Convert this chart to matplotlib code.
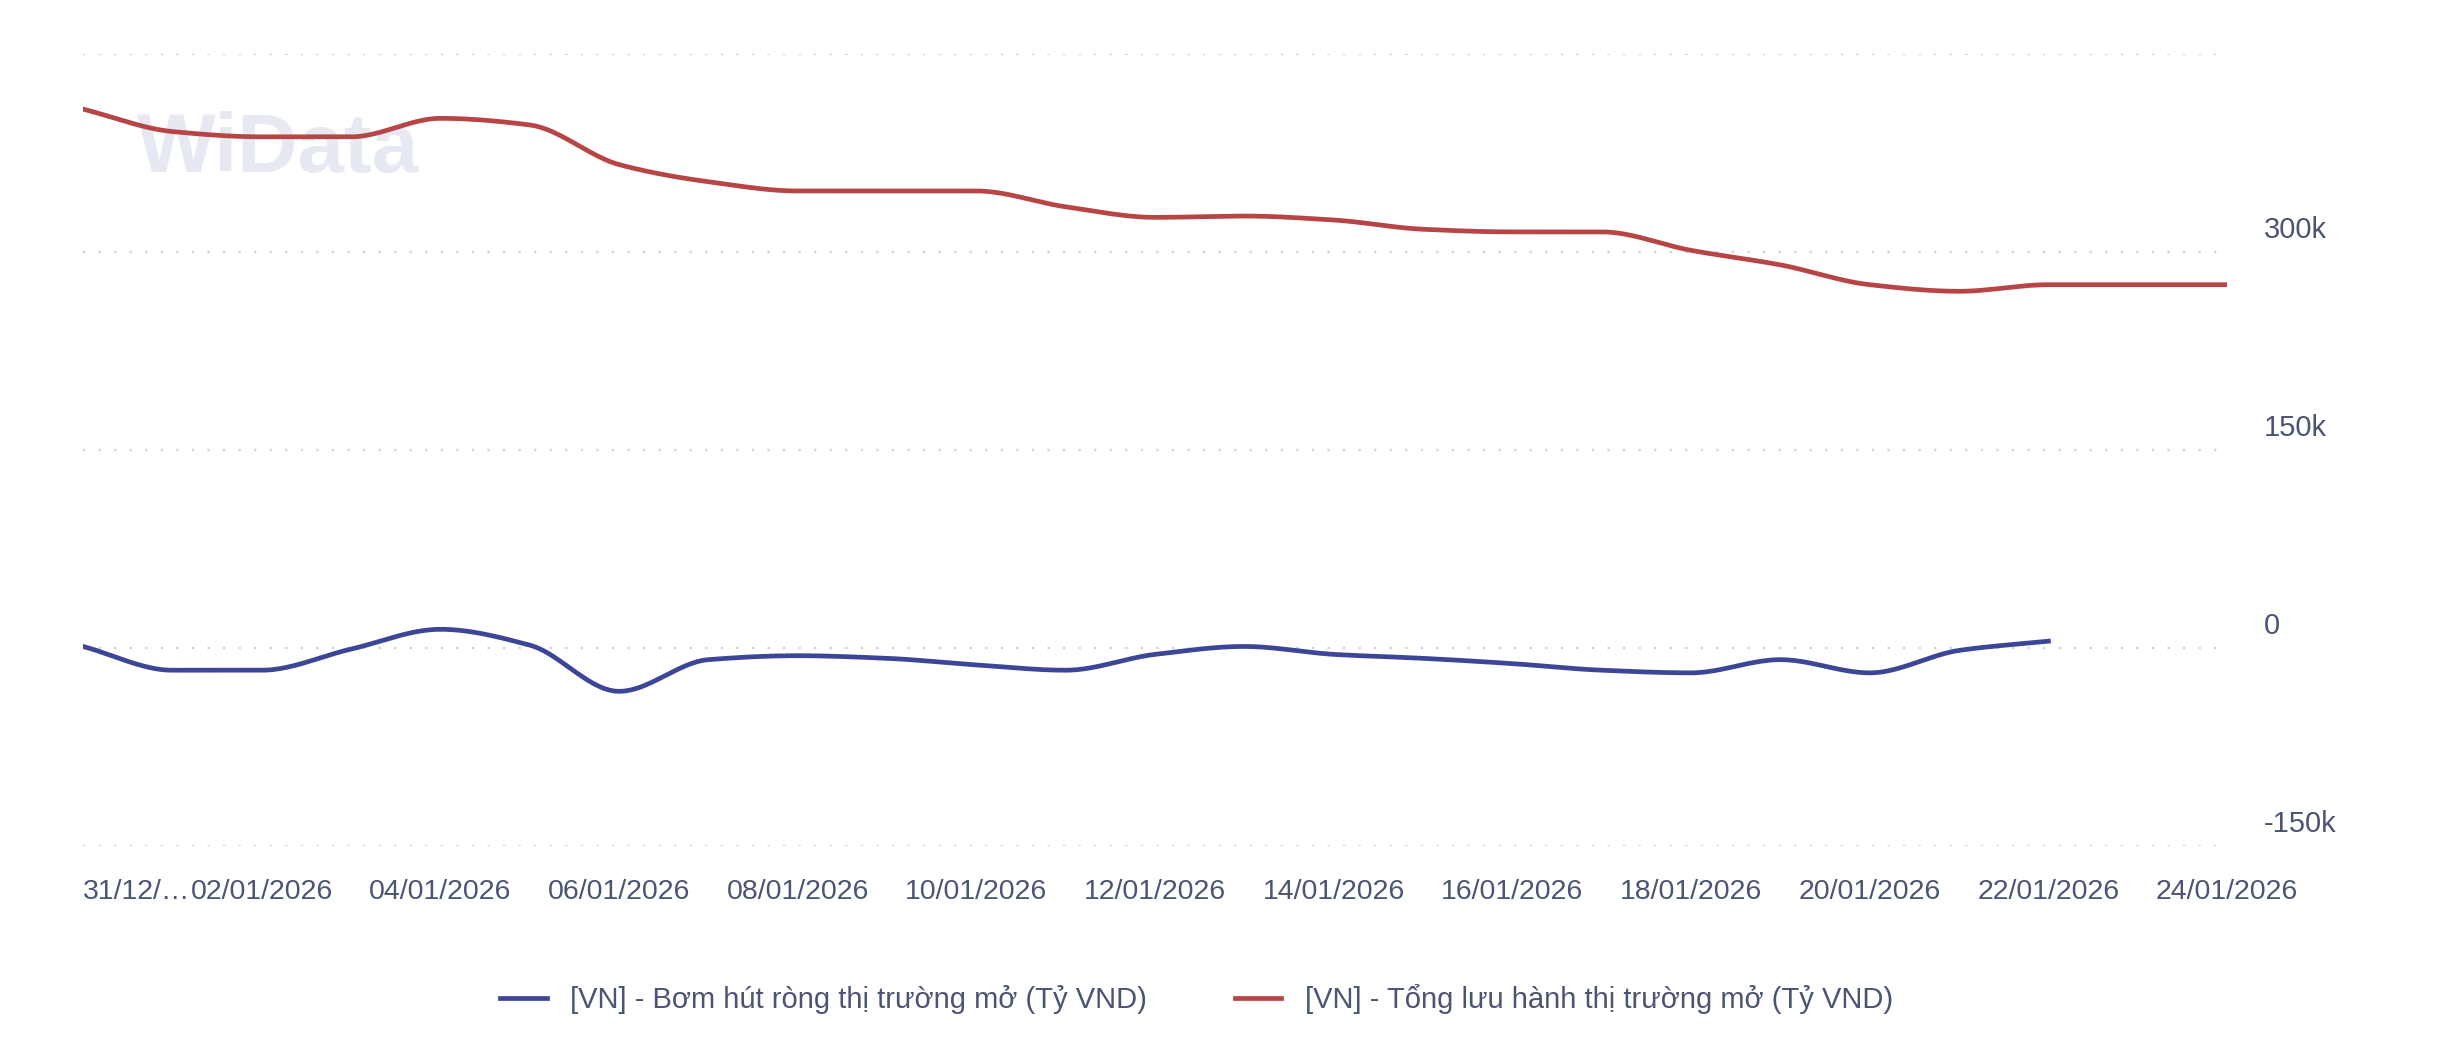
import matplotlib.pyplot as plt
import numpy as np

days = ["31/12/2025"] + ["%02d/01/2026" % d for d in range(1, 25)]
tong_luu_hanh = [408, 391, 387, 387, 401, 396, 366, 353, 346, 346, 346, 334, 326, 327,
                 324, 317, 315, 315, 301, 290, 275, 270, 275, 275, 275]
bom_hut_rong = [1, -17, -17, -1, 14, 2, -33, -9, -6, -8, -13, -17, -5, 1,
                -5, -8, -12, -17, -19, -9, -19, -2, 5]


def smooth(y, n=24):
    # monotone cubic (like the chart's curve), no overshoot on flat parts
    y = np.asarray(y, float) * 1000
    d = np.diff(y)
    m = np.zeros(len(y))
    m[0], m[-1] = d[0], d[-1]
    for i in range(1, len(y) - 1):
        if d[i - 1] * d[i] > 0:
            m[i] = 2.0 / (1.0 / d[i - 1] + 1.0 / d[i])
    t = np.linspace(0, 1, n, endpoint=False)
    h00 = 2 * t ** 3 - 3 * t ** 2 + 1
    h10 = t ** 3 - 2 * t ** 2 + t
    h01 = -2 * t ** 3 + 3 * t ** 2
    h11 = t ** 3 - t ** 2
    xs, ys = [], []
    for i in range(len(y) - 1):
        xs.extend(i + t)
        ys.extend(h00 * y[i] + h10 * m[i] + h01 * y[i + 1] + h11 * m[i + 1])
    xs.append(len(y) - 1)
    ys.append(y[-1])
    return np.array(xs), np.array(ys)


plt.rcParams['font.family'] = ['Liberation Sans', 'DejaVu Sans']
txt = '#4a5573'

fig = plt.figure(figsize=(24.42, 10.52), dpi=100)
ax = fig.add_axes([0.034, 0.196, 0.878, 0.753])

xb, yb = smooth(bom_hut_rong)
xr, yr = smooth(tong_luu_hanh)
ax.plot(xb, yb, color='#3d4597', lw=3.4, label='[VN] - Bơm hút ròng thị trường mở (Tỷ VND)')
ax.plot(xr, yr, color='#b84545', lw=3.4, label='[VN] - Tổng lưu hành thị trường mở (Tỷ VND)')

ax.set_xlim(0, 24)
ax.set_ylim(-150000, 450000)
for v in [-150000, 0, 150000, 300000, 450000]:
    ax.axhline(v, color='#cfcfcf', lw=1.6, ls=(0, (1, 6)), zorder=0)
for v, s in [(-150000, '-150k'), (0, '0'), (150000, '150k'), (300000, '300k')]:
    ax.text(1.017, v + 6000, s, transform=ax.get_yaxis_transform(), color=txt,
            fontsize=21, va='bottom', ha='left')

ticks = list(range(0, 25, 2))
ax.set_xticks(ticks)
labels = ["31/12/…"] + [days[i] for i in ticks[1:]]
ax.set_xticklabels(labels, color=txt, fontsize=20.5)
ax.get_xticklabels()[0].set_ha('left')
ax.tick_params(axis='x', length=0, pad=24)
ax.set_yticks([])
for s in ax.spines.values():
    s.set_visible(False)

ax.text(0.025, 0.85, 'WiData', transform=ax.transAxes, fontsize=60, fontweight='bold',
        color='#e6e8f2', zorder=0)

fig.legend(loc='center', bbox_to_anchor=(0.49, 0.05), ncol=2, frameon=False,
           fontsize=21, labelcolor=txt, handlelength=1.6, columnspacing=3)

fig.savefig('out.png')
